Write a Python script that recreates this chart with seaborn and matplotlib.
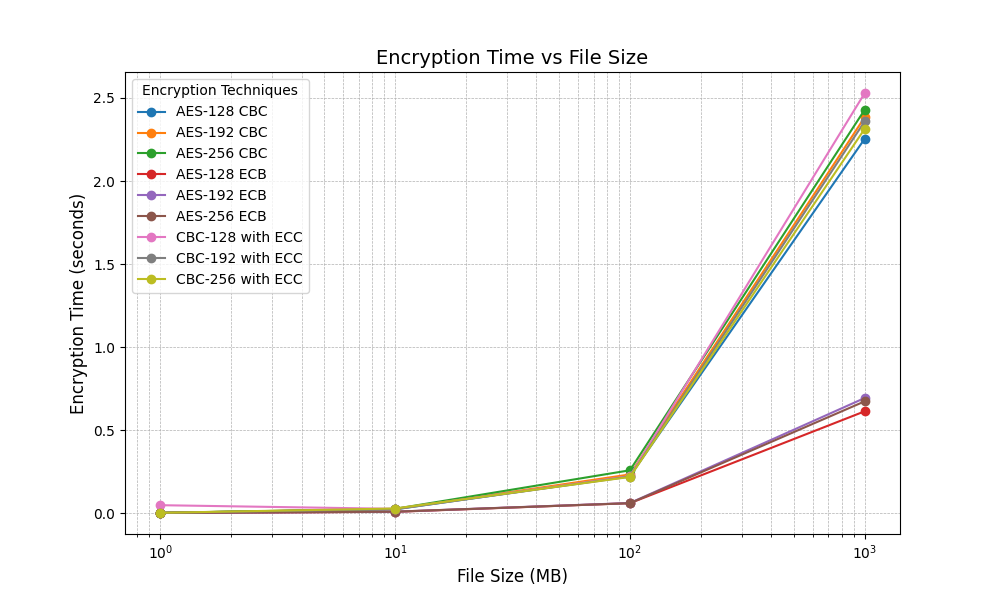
import matplotlib
matplotlib.use("Agg")
import matplotlib.pyplot as plt
import seaborn as sns
import pandas as pd

file_sizes = [1, 10, 100, 1000]

aes128_cbc = [0.004, 0.025, 0.225, 2.255]
aes192_cbc = [0.004, 0.027, 0.235, 2.385]
aes256_cbc = [0.004, 0.028, 0.260, 2.430]
aes128_ecb = [0.003, 0.010, 0.062, 0.615]
aes192_ecb = [0.003, 0.011, 0.063, 0.695]
aes256_ecb = [0.003, 0.011, 0.062, 0.675]
cbc128_ecc = [0.050, 0.028, 0.225, 2.530]
cbc192_ecc = [0.004, 0.026, 0.222, 2.360]
cbc256_ecc = [0.004, 0.030, 0.220, 2.315]

techniques = {
    "AES-128 CBC": aes128_cbc,
    "AES-192 CBC": aes192_cbc,
    "AES-256 CBC": aes256_cbc,
    "AES-128 ECB": aes128_ecb,
    "AES-192 ECB": aes192_ecb,
    "AES-256 ECB": aes256_ecb,
    "CBC-128 with ECC": cbc128_ecc,
    "CBC-192 with ECC": cbc192_ecc,
    "CBC-256 with ECC": cbc256_ecc,
}

rows = []
for name, vals in techniques.items():
    for s, v in zip(file_sizes, vals):
        rows.append({"size": s, "time": v, "technique": name})
df = pd.DataFrame(rows)

fig, ax = plt.subplots(figsize=(10, 6), dpi=100)
palette = sns.color_palette("tab10", 9)
for i, name in enumerate(techniques):
    sub = df[df["technique"] == name]
    ax.plot(sub["size"], sub["time"], marker="o", color=palette[i], label=name)

ax.set_xscale("log")
ax.set_title("Encryption Time vs File Size", fontsize=14)
ax.set_xlabel("File Size (MB)", fontsize=12)
ax.set_ylabel("Encryption Time (seconds)", fontsize=12)
ax.grid(True, which="both", linestyle="--", linewidth=0.5)
ax.legend(title="Encryption Techniques")

fig.savefig("out.png", dpi=100)
